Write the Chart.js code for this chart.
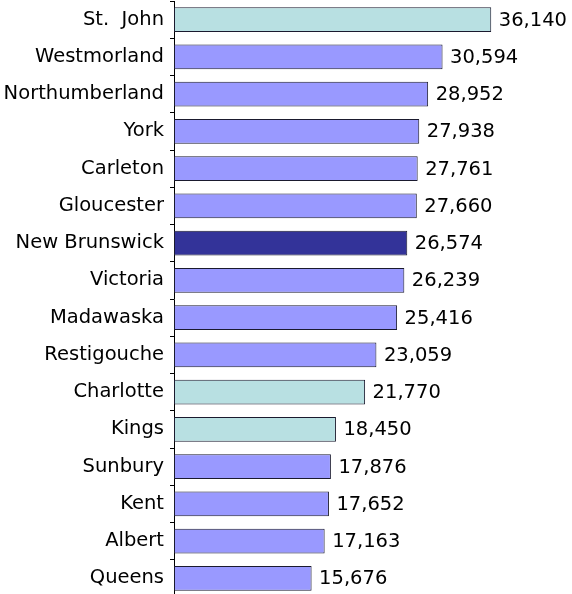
<!DOCTYPE html>
<html>
<head>
<meta charset="utf-8">
<script src="https://cdn.jsdelivr.net/npm/chart.js@4/dist/chart.umd.min.js"></script>
<style>
html,body{margin:0;padding:0;background:#fff;overflow:hidden;}
#wrap{position:relative;width:572px;height:598px;}
</style>
</head>
<body>
<div id="wrap"><canvas id="c"></canvas></div>
<script>
const categories = ["St.  John","Westmorland","Northumberland","York","Carleton","Gloucester","New Brunswick","Victoria","Madawaska","Restigouche","Charlotte","Kings","Sunbury","Kent","Albert","Queens"];
const values = [36140,30594,28952,27938,27761,27660,26574,26239,25416,23059,21770,18450,17876,17652,17163,15676];
const groups = ["cyan","blue","blue","blue","blue","blue","dark","blue","blue","blue","cyan","cyan","blue","blue","blue","blue"];
const palette = {cyan:"#B8E0E2", blue:"#9999FF", dark:"#333399"};
const FONT = "DejaVu Sans, Verdana, sans-serif";

const valueLabels = {
  id: "valueLabels",
  afterDatasetsDraw(chart) {
    const ctx = chart.ctx;
    const meta = chart.getDatasetMeta(0);
    ctx.save();
    ctx.font = "19.5px " + FONT;
    ctx.fillStyle = "#000";
    ctx.textAlign = "left";
    ctx.textBaseline = "middle";
    meta.data.forEach((bar, i) => {
      ctx.fillText(values[i].toLocaleString("en-US"), bar.x + 7.5, bar.y + 1);
    });
    ctx.restore();
  }
};

new Chart(document.getElementById("c"), {
  type: "bar",
  data: {
    labels: categories,
    datasets: [{
      data: values,
      backgroundColor: groups.map(g => palette[g]),
      borderColor: "#1a1a2e",
      borderWidth: 1,
      borderSkipped: false,
      categoryPercentage: 1,
      barPercentage: 0.67
    }]
  },
  options: {
    indexAxis: "y",
    responsive: true,
    maintainAspectRatio: false,
    animation: false,
    layout: { padding: { top: 1, bottom: 1, left: 0, right: 3 } },
    plugins: { legend: { display: false }, tooltip: { enabled: false } },
    scales: {
      x: { display: false, min: 0, max: 45000 },
      y: {
        afterFit(scale) { scale.width = 174; scale.paddingTop = 0; scale.paddingBottom = 0; },
        grid: { drawOnChartArea: false, drawTicks: true, tickLength: 4, color: "#000", offset: true },
        border: { color: "#000", width: 1 },
        ticks: { color: "#000", padding: 6, font: { family: FONT, size: 19.5 }, autoSkip: false }
      }
    }
  },
  plugins: [valueLabels]
});
</script>
</body>
</html>
